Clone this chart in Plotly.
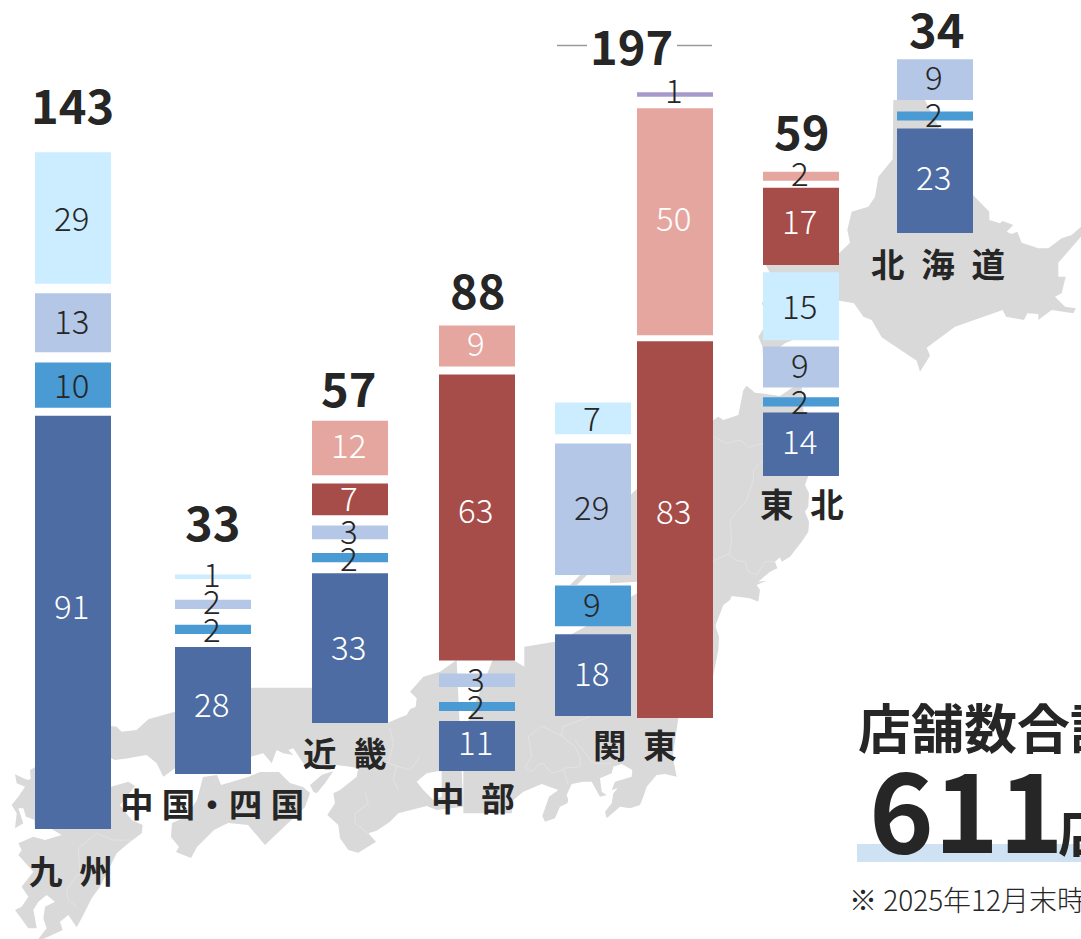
import plotly.graph_objects as go

W, H = 1081, 939
PX_PER_STORE = 4.54

# ---- data ----
COLUMNS = ["九州", "中国・四国", "近畿", "中部", "関東1", "関東2", "東北", "北海道"]
NAVY = [91, 28, 33, 11, 18, None, 14, 23]
BLUE = [10, 2, 2, 2, 9, None, 2, 2]
PERIWINKLE = [13, 2, 3, 3, 29, None, 9, 9]
CYAN = [29, 1, None, None, 7, None, 15, None]
DARKRED = [None, None, 7, 63, None, 83, 17, None]
PINK = [None, None, 12, 9, None, 50, 2, None]
PURPLE = [None, None, None, None, None, 1, None, None]

TOTAL_LABELS = ["143", "33", "57", "88", "197", "59", "34"]
S = "\u2002"
T = "\u2005"
REGION_LABELS = [f"九{S}州", f"中{T}国・四{T}国", f"近{S}畿", f"中{S}部", f"関{S}東", f"東{S}北", f"北{S}海{S}道"]

# ---- layout (pixels) ----
COL_LEFT = [35, 175, 312, 439, 555, 637, 763, 897]
COL_BOTTOM = [829, 774, 723, 771, 716, 718, 476, 233]
BAR_W = 76
GAPS = [[8, 10.3, 9.3], [13, 15.9, 20.9], [11, 13.9, 10.3, 8.3], [10, 14.9, 13, 8], [8, 10.3, 9.3], [6, 11.5], [6, 9.9, 6.3, 7.3, 7], [8, 11.5]]
# upward nudge of each inner label, per column in stacking order
LABEL_NUDGE = [[19, 3, 5, 3], [9, 3, 6, 6], [4, 3, 4, 4, 6], [7, 4, 4, 10, 6], [5, 5, 5, 3], [22, 7, 7], [6, 4, 5, 3, 8, 6], [7, 5, 6]]
TOTAL_POS = [(72, 103), (212, 520), (348, 386), (477, 288), (632, 44), (801, 129), (936, 28)]
REGION_POS = [(71, 869), (212, 802), (345, 751), (473, 796), (635, 743), (802, 502), (938, 262)]

SERIES = [
    ("navy", NAVY, "#4C6CA3", "#FFFFFF"),
    ("blue", BLUE, "#4A9AD4", "#262626"),
    ("periwinkle", PERIWINKLE, "#B4C7E7", "#262626"),
    ("cyan", CYAN, "#CCECFF", "#262626"),
    ("darkred", DARKRED, "#A64D4A", "#FFFFFF"),
    ("pink", PINK, "#E6A6A0", "#FFFFFF"),
    ("purple", PURPLE, "#A79ACB", "#262626"),
]

LIGHT = "Noto Sans CJK JP Light, Noto Sans CJK JP"
BOLD = "Noto Sans CJK JP"
INK = "#262626"


def u(py):
    """pixel row -> store units on the y axis"""
    return (H - py) / PX_PER_STORE


fig = go.Figure()
annotations = []

# stacked columns, floating with the white gaps of the reference
cursor = list(COL_BOTTOM)
seen = [0] * len(COLUMNS)
centers = [l + BAR_W / 2 for l in COL_LEFT]
for name, vals, color, tcolor in SERIES:
    xs, bases, ys = [], [], []
    for i, v in enumerate(vals):
        if v is None:
            continue
        if seen[i] > 0:
            cursor[i] -= GAPS[i][seen[i] - 1]
        nudge = LABEL_NUDGE[i][seen[i]]
        seen[i] += 1
        base = u(cursor[i])
        xs.append(centers[i]); bases.append(base); ys.append(v)
        cursor[i] -= v * PX_PER_STORE
        small = v <= 3
        annotations.append(dict(
            x=centers[i] - 1.5, y=base + v / 2, xref="x", yref="y", text=str(v), showarrow=False,
            yshift=nudge - 2,
            font=dict(family=LIGHT, size=33, color=INK if small else tcolor, weight=300),
        ))
    fig.add_trace(go.Bar(x=xs, y=ys, base=bases, width=BAR_W, marker=dict(color=color, line_width=0),
                         name=name, hoverinfo="skip", showlegend=False))


def a(px, py, text, size, family=BOLD, weight=700, color=INK, anchor="center"):
    annotations.append(dict(x=px / W, y=1 - py / H, xref="paper", yref="paper", text=text, showarrow=False,
                            xanchor=anchor, yanchor="middle",
                            font=dict(family=family, size=size, color=color, weight=weight)))


for (px, py), t in zip(TOTAL_POS, TOTAL_LABELS):
    a(px, py, t, 47)
for (px, py), t in zip(REGION_POS, REGION_LABELS):
    a(px, py, t, 33.5)

a(856, 726, "店舗数合計", 53, anchor="left")
a(867, 805, "611", 110, anchor="left")
a(1056, 829, "店", 53, anchor="left")
a(847, 899, "※ 2025年12月末時点", 28, family=LIGHT, weight=300, anchor="left")

# ---- background map, traced in pixels as (x offset, y offset, zoom-scaled points) ----
MAP = [
    # Hokkaido
    (830, 90, [(190, 30), (285, 30), (300, 60), (429, 315), (478, 365), (478, 390), (510, 400), (518, 393), (550, 405),
               (530, 425), (545, 432), (562, 425), (575, 458), (625, 475), (655, 475), (695, 445), (725, 435), (753, 410),
               (753, 440), (685, 518), (685, 560), (707, 560), (695, 610), (675, 620), (705, 650), (738, 655), (730, 670),
               (665, 660), (625, 690), (625, 672), (592, 670), (582, 690), (528, 680), (518, 660), (375, 710), (290, 773),
               (300, 797), (270, 845), (260, 812), (155, 742), (125, 690), (100, 680), (72, 640), (27, 632), (-40, 720),
               (-135, 760), (-200, 810), (-203, 770), (-215, 740), (-190, 700), (-185, 680), (-205, 640), (-180, 615),
               (-170, 570), (-195, 520), (-195, 495), (-170, 445), (-160, 440), (-140, 445), (-80, 450), (-40, 430), (27, 490),
               (60, 458), (52, 420), (65, 365), (115, 350), (135, 320), (145, 260), (188, 208)]),
    # Honshu (north-east part in one scale)
    (690, 240, [(70, 540), (85, 530), (100, 540), (145, 525), (160, 450), (170, 437), (195, 458), (270, 468), (310, 441),
                (335, 441), (355, 708), (345, 735), (357, 760), (355, 800), (345, 815), (357, 845), (355, 875), (335, 905),
                (300, 950), (275, 965), (270, 952), (255, 965), (262, 985), (240, 995), (205, 1025), (230, 1022), (200, 1035),
                (210, 1050), (205, 1085), (180, 1075), (125, 1068), (120, 1080), (100, 1095), (75, 1160), (85, 1200),
                (-40, 1200), (-60, 1020), (-240, 1030), (-240, 820)]),
    # Noto peninsula sliver
    (0, 0, [(570, 585), (580, 575), (587, 575), (577, 585)]),
    # Honshu centre: Kanto coast and Chubu
    (480, 600, [(320, 78), (453, -10), (471, -20), (700, 60), (717, 110), (715, 150), (699, 230), (595, 354), (578, 470), (590, 530), (555, 522),
                (530, 525), (500, 560), (490, 590), (480, 615), (450, 625), (420, 620), (380, 655), (375, 635), (395, 610),
                (400, 580), (413, 565), (395, 570), (405, 545), (455, 530), (457, 510), (425, 492), (400, 500), (395, 520),
                (360, 535), (365, 575), (380, 585), (360, 590), (335, 545), (310, 545), (275, 552), (260, 585), (265, 600),
                (262, 610), (240, 620), (225, 655), (195, 665), (187, 648), (207, 590), (235, 570), (185, 552), (130, 575),
                (100, 600), (95, 640), (20, 640), (-50, 640), (-50, 400), (50, 150), (133, 200), (133, 140), (225, 125), (280, 100)]),
    # Honshu west: Kansai and Kii
    (250, 640, [(575, 200), (520, 110), (570, 95), (620, 60), (640, 500), (560, 510), (530, 498), (445, 520), (420, 545), (380, 572),
                (355, 580), (378, 605), (325, 638), (295, 630), (270, 595), (265, 555), (232, 525), (255, 490), (250, 460),
                (270, 450), (320, 410), (325, 385), (300, 380), (260, 375), (220, 375), (170, 385), (130, 325), (115, 330),
                (130, 345), (100, 340), (80, 330), (65, 370), (40, 340), (0, 350), (0, 143), (187, 143), (187, 248), (414, 248),
                (445, 235), (470, 225), (480, 208), (497, 200), (500, 175), (480, 155), (520, 110)]),
    # Honshu west: Chugoku
    (0, 680, [(333, 138), (350, 140), (365, 155), (410, 150), (445, 118), (525, 95), (525, 25), (760, 25), (760, 210), (600, 240),
              (525, 265), (490, 290), (470, 250), (440, 225), (400, 232), (385, 235), (345, 240), (333, 235), (300, 235), (300, 150)]),
    # Awaji
    (250, 640, [(180, 435), (215, 405), (250, 393), (225, 430), (200, 460), (190, 455)]),
    # Shikoku
    (0, 0, [(203, 777), (217, 775), (221, 785), (248, 777), (260, 772), (279, 772), (290, 783), (303, 787), (310, 793), (305, 807),
            (265, 845), (248, 825), (228, 823), (214, 830), (197, 847), (191, 858), (176, 852), (179, 847), (171, 837), (172, 823), (186, 817), (197, 800)]),
    # Kyushu
    (0, 680, [(90, 270), (105, 262), (333, 262), (333, 320), (385, 305), (405, 318), (360, 375), (395, 420), (428, 435), (425, 460),
              (385, 490), (350, 520), (335, 550), (300, 620), (275, 655), (250, 705), (230, 742), (205, 705), (180, 725), (188, 750),
              (130, 777), (115, 777), (140, 745), (130, 715), (135, 680), (165, 665), (140, 645), (115, 665), (100, 690), (105, 715),
              (110, 745), (85, 745), (45, 690), (65, 680), (85, 650), (65, 620), (100, 575), (55, 525), (65, 510), (55, 490), (100, 470),
              (135, 480), (185, 465), (155, 447), (105, 447)]),
    # Nagasaki
    (0, 680, [(45, 283), (70, 295), (85, 300), (105, 290), (105, 420), (78, 410), (70, 385), (55, 385), (70, 430), (45, 445), (50, 400),
              (35, 375), (55, 350), (75, 320), (50, 310)]),
]
ISE_BAY = (250, 640, [(567, 393), (530, 400), (500, 425), (520, 450), (550, 480), (575, 470), (575, 393)])
BORDERS = [
    (480, 600, [(185, 378), (245, 408), (248, 380), (330, 350)]),
    (480, 600, [(245, 408), (285, 440), (300, 470), (300, 500), (250, 505), (265, 555)]),
    (480, 600, [(185, 378), (165, 395), (145, 410), (155, 470), (135, 500), (155, 515), (175, 495), (190, 490), (215, 520), (250, 510)]),
    (480, 600, [(285, 420), (340, 490), (395, 490)]),
    (250, 640, [(420, 265), (430, 310), (415, 370), (480, 390), (510, 350)]),
    (250, 640, [(345, 455), (355, 490), (315, 520), (315, 550), (355, 580)]),
    (250, 640, [(440, 375), (430, 420), (445, 450)]),
    (690, 240, [(120, 840), (170, 780), (190, 720), (190, 690), (219, 660)]),
    (690, 240, [(70, 590), (110, 610), (150, 600), (175, 622), (219, 610)]),
    (690, 240, [(120, 840), (125, 900), (118, 942), (70, 962)]),
    (690, 240, [(118, 942), (140, 962), (165, 965), (175, 995), (200, 1005), (225, 965), (255, 965)]),
    (0, 680, [(235, 505), (290, 460), (340, 480), (395, 480)]),
    (0, 680, [(235, 505), (240, 575), (200, 630), (205, 660), (230, 680)]),
]


def path(item, close=True):
    ox, oy, pts = item
    coords = [(ox + x / 3 if ox or oy else x, oy + y / 3 if ox or oy else y) for x, y in pts]
    s = "M" + " L".join(f"{x / W:.5f},{1 - y / H:.5f}" for x, y in coords)
    return s + (" Z" if close else "")


shapes = [dict(type="path", path=path(m), xref="paper", yref="paper", fillcolor="#D9D9D9", line_width=0, layer="below") for m in MAP]
shapes.append(dict(type="path", path=path(ISE_BAY), xref="paper", yref="paper", fillcolor="#FFFFFF", line_width=0, layer="below"))
shapes += [dict(type="path", path=path(b, close=False), xref="paper", yref="paper", line=dict(color="#E6E6E6", width=0.7), layer="below") for b in BORDERS]
# highlight strip below the grand total, and the rules either side of 197
shapes.append(dict(type="rect", x0=857 / W, x1=1, y0=1 - 862 / H, y1=1 - 844 / H, xref="paper", yref="paper", fillcolor="#CFE2F3", line_width=0, layer="below"))
for x0, x1 in ((557, 587), (677, 712)):
    shapes.append(dict(type="line", x0=x0 / W, x1=x1 / W, y0=1 - 45.5 / H, y1=1 - 45.5 / H, xref="paper", yref="paper", line=dict(color="#9A9A9A", width=1.5)))

fig.update_layout(
    width=W, height=H, margin=dict(l=0, r=0, t=0, b=0), autosize=False,
    paper_bgcolor="#FFFFFF", plot_bgcolor="rgba(0,0,0,0)", barmode="overlay", showlegend=False,
    xaxis=dict(range=[0, W], visible=False, fixedrange=True),
    yaxis=dict(range=[0, H / PX_PER_STORE], visible=False, fixedrange=True),
    annotations=annotations, shapes=shapes,
)
fig.write_html("out.html", config={"displayModeBar": False},
               post_script="document.body.style.margin='0';document.body.style.overflow='hidden';")
